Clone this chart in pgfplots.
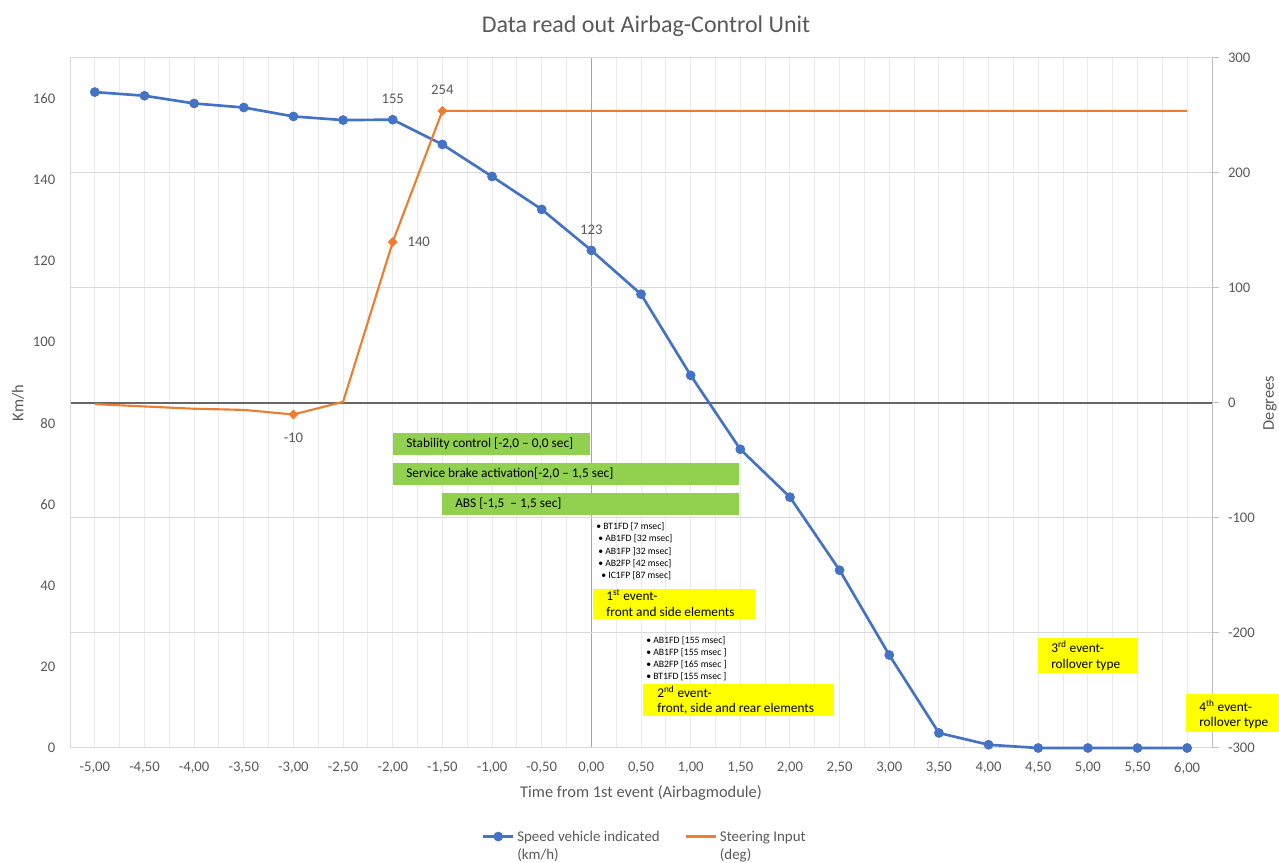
\documentclass[border=0pt]{standalone}
\usepackage{fontspec}
\setmainfont{Carlito}
\usepackage{pgfplots}
\pgfplotsset{compat=1.18}
\definecolor{cblue}{HTML}{4472C4}
\definecolor{corange}{HTML}{ED7D31}
\definecolor{cgreen}{HTML}{92D050}
\definecolor{cyellow}{HTML}{FFFF00}
\definecolor{ctext}{HTML}{595959}
\definecolor{cgrid}{HTML}{D9D9D9}
\definecolor{cvgrid}{HTML}{EBEBEB}
\begin{document}
\begin{tikzpicture}
\pgfplotsset{
  set layers,
  every axis/.append style={
    scale only axis, width=856.5pt, height=517.5pt,
    at={(52.5pt,86.25pt)}, anchor=south west,
    xmin=-5.25, xmax=6.25,
    clip=false,
    /pgf/number format/assume math mode=true,
    tick label style={font=\fontsize{11}{13}\selectfont, text=ctext},
  }
}
% ---------- left axis: speed ----------
\begin{axis}[
  ymin=0, ymax=170,
  ytick={0,20,40,60,80,100,120,140,160},
  xtick={-5,-4.5,-4,-3.5,-3,-2.5,-2,-1.5,-1,-0.5,0,0.5,1,1.5,2,2.5,3,3.5,4,4.5,5,5.5,6},
  minor x tick num=1,
  xmajorgrids, xminorgrids,
  major grid style={draw=cvgrid, line width=0.75pt},
  minor grid style={draw=cvgrid, line width=0.75pt},
  extra x ticks={0}, extra x tick labels={},
  extra x tick style={major grid style={draw=black!35, line width=1pt}},
  major tick length=0pt, minor tick length=0pt,
  axis line style={draw=cgrid, line width=0.75pt},
  xticklabel={\pgfmathprintnumber[fixed,fixed zerofill,precision=2,use comma]{\tick}},
  xticklabel style={anchor=center, yshift=-15pt},
  yticklabel style={anchor=east, xshift=-7.5pt},
]
\addplot[cblue, line width=2pt, mark=*, mark size=3.4pt, mark options={fill=cblue, draw=cblue, line width=0.5pt}, forget plot]
coordinates {(-5,161.6) (-4.5,160.7) (-4,158.8) (-3.5,157.8) (-3,155.6) (-2.5,154.7) (-2,154.8) (-1.5,148.7) (-1,140.8) (-0.5,132.7) (0,122.6) (0.5,111.8) (1,91.8) (1.5,73.6) (2,61.8) (2.5,43.8) (3,22.9) (3.5,3.7) (4,0.8) (4.5,0) (5,0) (5.5,0) (6,0)};
\addplot[draw=none, mark=none, forget plot, nodes near coords, point meta=explicit symbolic,
  nodes near coords style={font=\fontsize{11}{13}\selectfont, text=ctext, anchor=south, yshift=8.6pt}]
coordinates {(-2,154.8) [155] (0,122.6) [123]};
\end{axis}
% ---------- right axis: steering ----------
\begin{axis}[
  ymin=-300, ymax=300,
  ytick={-300,-200,-100,0,100,200,300},
  axis y line*=right, axis x line=none,
  ymajorgrids,
  major grid style={draw=cgrid, line width=0.75pt},
  extra y ticks={0}, extra y tick labels={},
  extra y tick style={major grid style={draw=black!60, line width=1.1pt}},
  y axis line style={draw=black!25, line width=0.75pt},
  ytick style={draw=black!25, line width=0.75pt},
  major tick length=5pt, tick align=outside,
  yticklabel style={anchor=west, xshift=3.5pt},
  legend columns=2,
  legend style={draw=none, fill=none, at={(0.357,-0.1277)}, anchor=west,
    cells={anchor=base west}, font=\fontsize{11.2}{13.4}\selectfont, text=ctext,
    /tikz/every even column/.append style={column sep=17pt}},
  legend image code/.code={\draw[mark repeat=2, mark phase=2, #1] plot coordinates {(0pt,3.6pt) (11.25pt,3.6pt) (22.5pt,3.6pt)};},
]
\addlegendimage{cblue, line width=2pt, mark=*, mark size=3.4pt, mark options={fill=cblue, draw=cblue, line width=0.5pt}}
\addlegendentry{\begin{tabular}[t]{@{}l@{}}Speed vehicle indicated\\(km/h)\end{tabular}}
\addlegendimage{corange, line width=1.6pt}
\addlegendentry{\begin{tabular}[t]{@{}l@{}}Steering Input\\(deg)\end{tabular}}
\addplot[corange, line width=1.6pt, mark=none, forget plot]
coordinates {(-5,-1) (-4.5,-3) (-4,-5) (-3.5,-6) (-3,-10) (-2.5,1) (-2,140) (-1.5,254) (-1,254) (-0.5,254) (0,254) (0.5,254) (1,254) (1.5,254) (2,254) (2.5,254) (3,254) (3.5,254) (4,254) (4.5,254) (5,254) (5.5,254) (6,254)};
\addplot[only marks, mark=square*, mark size=2.4pt, mark options={rotate=45, fill=corange, draw=corange}, forget plot]
coordinates {(-3,-10) (-2,140) (-1.5,254)};
\addplot[draw=none, mark=none, forget plot, nodes near coords, point meta=explicit symbolic,
  nodes near coords style={font=\fontsize{11}{13}\selectfont, text=ctext, anchor=south, yshift=8.6pt}]
coordinates {(-1.5,254) [254]};
\addplot[draw=none, mark=none, forget plot, nodes near coords, point meta=explicit symbolic,
  nodes near coords style={font=\fontsize{11}{13}\selectfont, text=ctext, anchor=west, xshift=7.6pt}]
coordinates {(-2,140) [140]};
\addplot[draw=none, mark=none, forget plot, nodes near coords, point meta=explicit symbolic,
  nodes near coords style={font=\fontsize{11}{13}\selectfont, text=ctext, anchor=north, yshift=-10.1pt}]
coordinates {(-3,-10) [-10]};
\end{axis}
% ---------- titles and annotations (pixel coordinates) ----------
\begin{scope}[x=0.75pt, y=-0.75pt, shift={(0pt,647.25pt)}]
  \node[anchor=base, inner sep=0, text=ctext, font=\fontsize{18}{21}\selectfont] at (646,32.3) {Data read out Airbag-Control Unit};
  \node[anchor=center, inner sep=0, text=ctext, font=\fontsize{12.3}{14}\selectfont] at (641,793) {Time from 1st event (Airbagmodule)};
  \node[anchor=center, inner sep=0, rotate=90, text=ctext, font=\fontsize{12.3}{14}\selectfont] at (18,403) {Km/h};
  \node[anchor=center, inner sep=0, rotate=90, text=ctext, font=\fontsize{12.3}{14}\selectfont] at (1270,403) {Degrees};
  % green boxes
  \fill[cgreen] (393,433) rectangle (590,455);
  \node[anchor=west, inner sep=0, font=\fontsize{10}{12}\selectfont] at (406,444) {Stability control [-2,0 – 0,0 sec]};
  \fill[cgreen] (393,463) rectangle (739,485);
  \node[anchor=west, inner sep=0, font=\fontsize{10}{12}\selectfont] at (406,474) {Service brake activation[-2,0 – 1,5 sec]};
  \fill[cgreen] (442,493) rectangle (739,515);
  \node[anchor=west, inner sep=0, font=\fontsize{10}{12}\selectfont] at (455,504) {ABS [-1,5\ \ – 1,5 sec]};
  % lists
  \begin{scope}[every node/.style={anchor=west, inner sep=0, font=\fontsize{7.3}{9}\selectfont}]
    \node at (596,527) {• BT1FD [7 msec]};
    \node at (598,539) {• AB1FD [32 msec]};
    \node at (598,552) {• AB1FP ]32 msec]};
    \node at (598,564) {• AB2FP [42 msec]};
    \node at (601,576) {• IC1FP [87 msec]};
    \node at (646,641) {• AB1FD [155 msec]};
    \node at (646,653) {• AB1FP [155 msec ]};
    \node at (646,665) {• AB2FP [165 msec ]};
    \node at (646,677) {• BT1FD [155 msec ]};
  \end{scope}
  % yellow boxes
  \begin{scope}[every node/.style={anchor=base west, inner sep=0, font=\fontsize{10}{12}\selectfont}]
    \fill[cyellow] (593,589) rectangle (755,619);
    \node at (606,600.5) {1\textsuperscript{st} event-};
    \node at (606,617) {front and side elements};
    \fill[cyellow] (643,684) rectangle (834,716);
    \node at (657,697.5) {2\textsuperscript{nd} event-};
    \node at (657,712.5) {front, side and rear elements};
    \fill[cyellow] (1038,638) rectangle (1138,673);
    \node at (1051,652.5) {3\textsuperscript{rd} event-};
    \node at (1051,668.5) {rollover type};
    \fill[cyellow] (1186,694) rectangle (1279,732);
    \node at (1199,711.5) {4\textsuperscript{th} event-};
    \node at (1199,726.5) {rollover type};
  \end{scope}
\end{scope}
\pgfresetboundingbox
\path (0,0) rectangle (959.25pt,647.25pt);
\end{tikzpicture}
\end{document}
